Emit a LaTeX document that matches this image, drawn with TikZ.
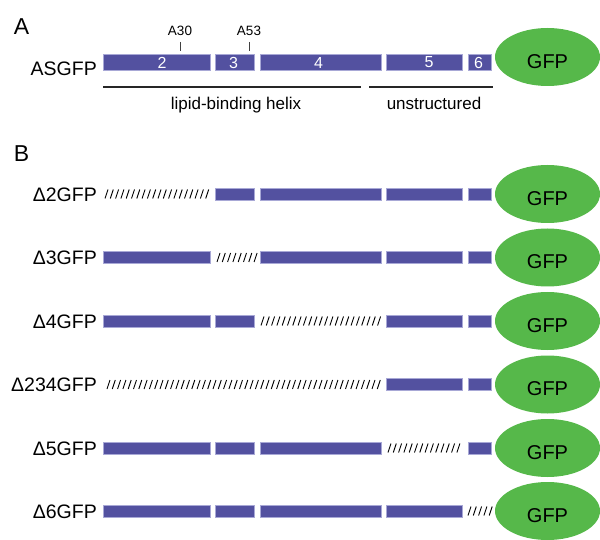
\documentclass[tikz,border=0pt]{standalone}
\usepackage{fontspec}
\setmainfont{Liberation Sans}
\usetikzlibrary{shapes.geometric}
\definecolor{segblue}{RGB}{83,81,160}
\definecolor{segedge}{RGB}{168,168,214}
\definecolor{gfpgreen}{RGB}{86,184,74}
\newcommand{\hatchrow}[3]{%
  \pgfmathsetmacro{\hnext}{#1+5.3}%
  \foreach \hx in {#1,\hnext,...,#2} \draw[hatchline] (\hx,#3+4.5) -- (\hx+3,#3-4.5);}
\begin{document}
\begin{tikzpicture}[x=1pt,y=-1pt,
    seg/.style={rectangle,fill=segblue,draw=segedge,line width=0.5pt,inner sep=0pt},
    segA/.style={seg,minimum height=16pt},
    segB/.style={seg,minimum height=12pt},
    s2/.style={minimum width=107pt},
    s3/.style={minimum width=39pt},
    s4/.style={minimum width=121pt},
    s5/.style={minimum width=76pt},
    s6/.style={minimum width=23pt},
    gfp/.style={ellipse,fill=gfpgreen,minimum width=105pt,minimum height=58pt,inner sep=0pt,
      text height=23pt,font=\fontsize{20}{20}\selectfont},
    num/.style={inner sep=0pt,text=white,font=\fontsize{16}{16}\selectfont},
    rowlbl/.style={anchor=east,inner sep=0pt,font=\fontsize{19.5}{20}\selectfont},
    panel/.style={inner sep=0pt,font=\fontsize{23}{23}\selectfont},
    site/.style={inner sep=0pt,font=\fontsize{13.5}{14}\selectfont},
    region/.style={anchor=base,inner sep=0pt,font=\fontsize{17}{17}\selectfont},
    hatchline/.style={line width=0.9pt,black}]
  \useasboundingbox (0,0) rectangle (600,540);
  % panel A
  \node[panel] (pA) at (21.5,26.5) {A};
  \node[rowlbl] (asgfp) at (97,69) {ASGFP};
  \node[segA,s2] (a2) at (156.5,62) {};
  \node[segA,s3] (a3) at (234.5,62) {};
  \node[segA,s4] (a4) at (320.5,62) {};
  \node[segA,s5] (a5) at (424,62) {};
  \node[segA,s6] (a6) at (479.5,62) {};
  \node[gfp] (agfp) at (547.5,57) {GFP};
  \node[num] (n2) at (162,62.5) {2};
  \node[num] (n3) at (233.5,62.5) {3};
  \node[num] (n4) at (318.5,62.5) {4};
  \node[num] (n5) at (429,62.5) {5};
  \node[num] (n6) at (478.5,62.5) {6};
  \node[site] (a30) at (180,30.5) {A30};
  \node[site] (a53) at (249,30.5) {A53};
  \draw[line width=0.8pt,black!75] (180,42) -- (180,51);
  \draw[line width=0.8pt,black!75] (249,42) -- (249,51);
  \draw[line width=2pt,black!85] (103,87) -- (361,87);
  \draw[line width=2pt,black!85] (369,87) -- (493,87);
  \node[region] (helix) at (236,110) {lipid-binding helix};
  \node[region] (unstr) at (434,110) {unstructured};
  % panel B
  \node[panel] (pB) at (21.5,153.5) {B};
  % Delta2
  \node[rowlbl] (d2) at (97,194.5) {Δ2GFP};
  \hatchrow{105}{207.5}{194}
  \node[segB,s3] (d2s3) at (234.5,194) {};
  \node[segB,s4] (d2s4) at (320.5,194) {};
  \node[segB,s5] (d2s5) at (424,194) {};
  \node[segB,s6] (d2s6) at (479.5,194) {};
  \node[gfp] (d2gfp) at (547.5,194) {GFP};
  % Delta3
  \node[rowlbl] (d3) at (97,258) {Δ3GFP};
  \node[segB,s2] (d3s2) at (156.5,257.5) {};
  \hatchrow{217}{254.5}{257.5}
  \node[segB,s4] (d3s4) at (320.5,257.5) {};
  \node[segB,s5] (d3s5) at (424,257.5) {};
  \node[segB,s6] (d3s6) at (479.5,257.5) {};
  \node[gfp] (d3gfp) at (547.5,257.5) {GFP};
  % Delta4
  \node[rowlbl] (d4) at (97,321.5) {Δ4GFP};
  \node[segB,s2] (d4s2) at (156.5,321) {};
  \node[segB,s3] (d4s3) at (234.5,321) {};
  \hatchrow{261}{378.5}{321}
  \node[segB,s5] (d4s5) at (424,321) {};
  \node[segB,s6] (d4s6) at (479.5,321) {};
  \node[gfp] (d4gfp) at (547.5,321) {GFP};
  % Delta234
  \node[rowlbl] (d234) at (97,385) {Δ234GFP};
  \hatchrow{107}{378.5}{384.5}
  \node[segB,s5] (d234s5) at (424,384.5) {};
  \node[segB,s6] (d234s6) at (479.5,384.5) {};
  \node[gfp] (d234gfp) at (547.5,384.5) {GFP};
  % Delta5
  \node[rowlbl] (d5) at (97,448.5) {Δ5GFP};
  \node[segB,s2] (d5s2) at (156.5,448) {};
  \node[segB,s3] (d5s3) at (234.5,448) {};
  \node[segB,s4] (d5s4) at (320.5,448) {};
  \hatchrow{388}{459.5}{448}
  \node[segB,s6] (d5s6) at (479.5,448) {};
  \node[gfp] (d5gfp) at (547.5,448) {GFP};
  % Delta6
  \node[rowlbl] (d6) at (97,511.5) {Δ6GFP};
  \node[segB,s2] (d6s2) at (156.5,511) {};
  \node[segB,s3] (d6s3) at (234.5,511) {};
  \node[segB,s4] (d6s4) at (320.5,511) {};
  \node[segB,s5] (d6s5) at (424,511) {};
  \hatchrow{468}{489.5}{511}
  \node[gfp] (d6gfp) at (547.5,511) {GFP};
\end{tikzpicture}
\end{document}
